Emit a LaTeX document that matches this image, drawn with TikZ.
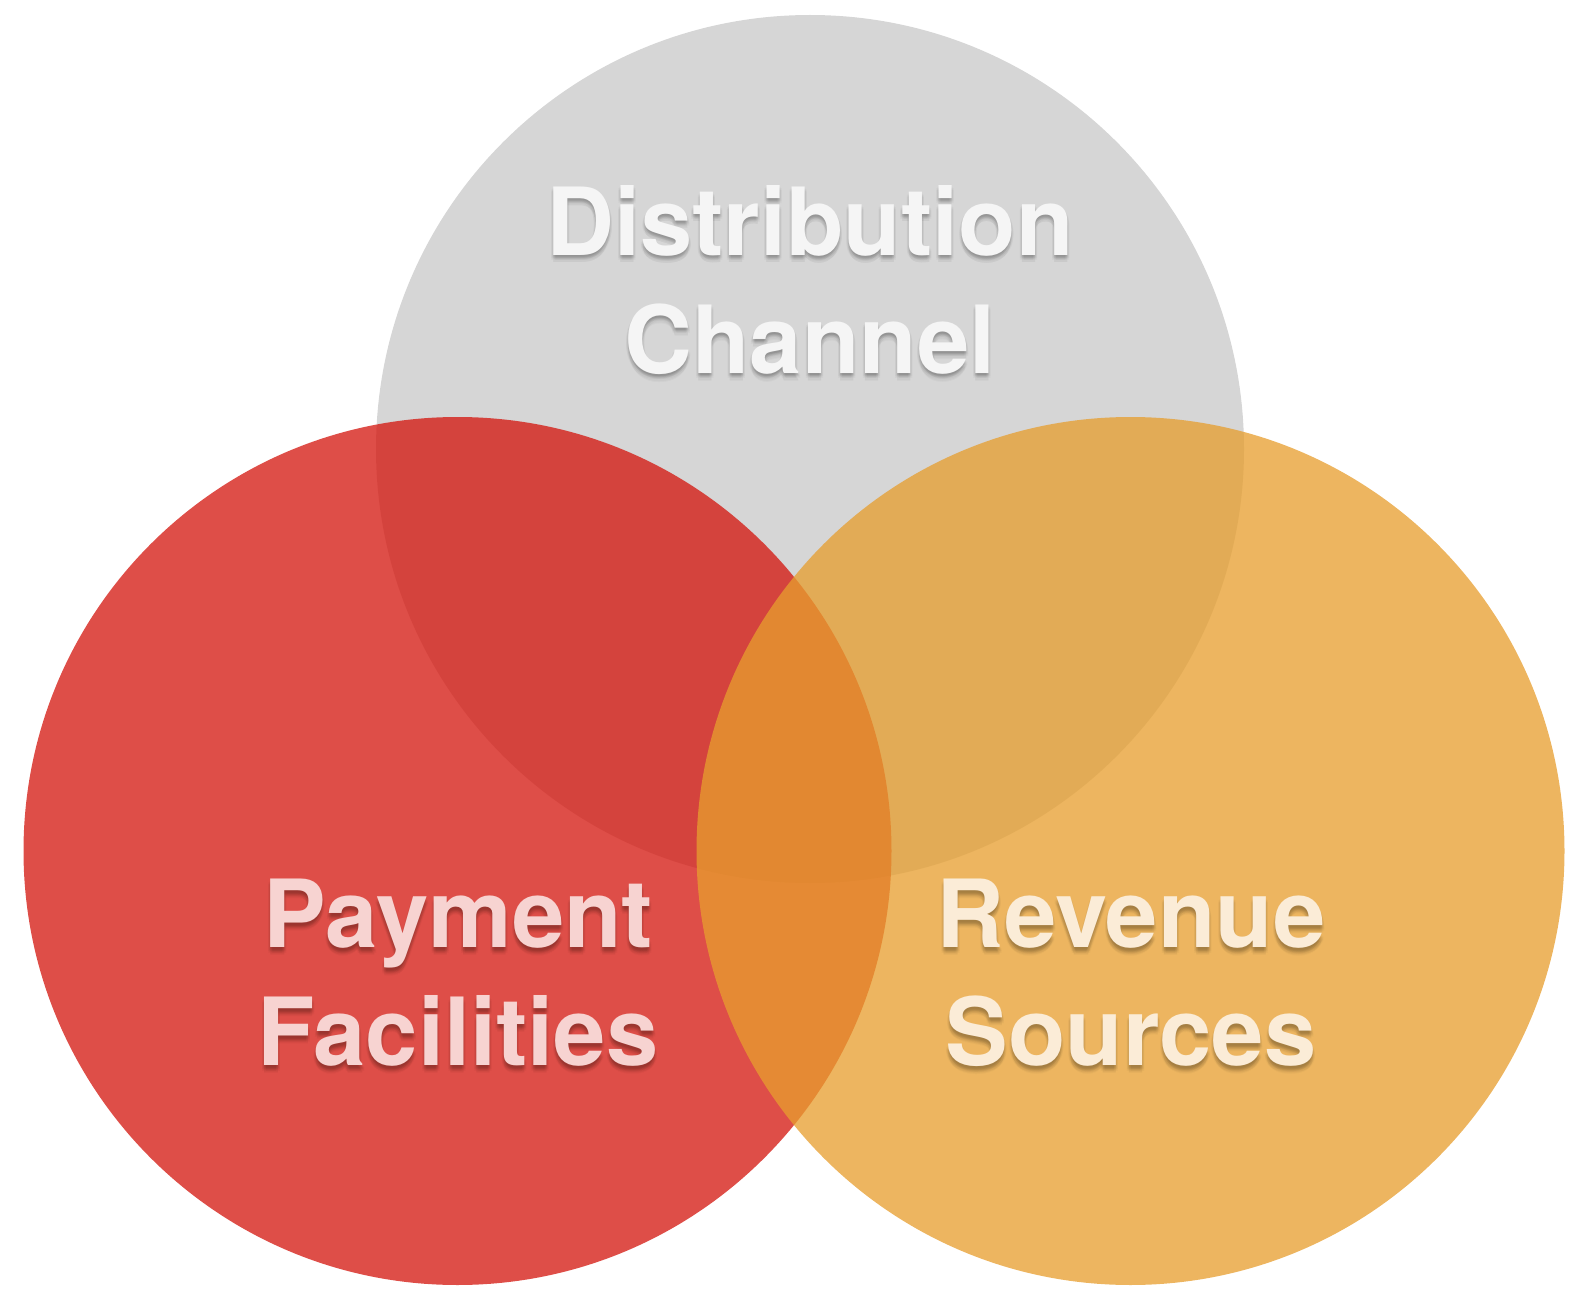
\documentclass[tikz,border=0pt]{standalone}
\usepackage{fontspec}
\setmainfont{TeX Gyre Heros}
\usetikzlibrary{positioning}
\definecolor{chgray}{RGB}{214,214,214}
\definecolor{payred}{RGB}{212,22,14}
\definecolor{revorange}{RGB}{231,158,46}
\definecolor{graytext}{RGB}{245,245,245}
\definecolor{redtext}{RGB}{247,211,209}
\definecolor{orangetext}{RGB}{251,236,215}

\begin{document}
\begin{tikzpicture}[x=0.5pt,y=-0.5pt,
    bubble/.style={circle,inner sep=0pt,minimum size=#1},
    word/.style={font=\fontsize{47}{59}\selectfont\bfseries,align=center,anchor=base,inner sep=0pt},
    shade/.style={word,text=black,text opacity=0.028}]
  \useasboundingbox (0,0) rectangle (1575,1289);
  \clip (0,0) rectangle (1575,1289);
  % the three circles
  \node[bubble=434pt,fill=chgray](channel) at (810,449){};
  \node[bubble=434pt,fill=payred,fill opacity=0.76](payment) at (457.5,851){};
  \node[bubble=434pt,fill=revorange,fill opacity=0.76](revenue) at (1130.5,851){};
  % soft shadow under the words (baseline of the last line)
  \foreach \dx/\dy [count=\i] in {0/4,1/5,-1/5,2/6,-2/6,0/7,1/3,-1/3,0/8,2/4,-2/4,0/2}{
    \node[shade](dshadow\i) at (810+\dx,373+\dy){Distribution\\Channel};
    \node[shade](pshadow\i) at (458+\dx,1065+\dy){Payment\\Facilities};
    \node[shade](rshadow\i) at (1131+\dx,1065+\dy){Revenue\\Sources};
  }
  \node[word,text=graytext](dist) at (810,373){Distribution\\Channel};
  \node[word,text=redtext](pay) at (458,1065){Payment\\Facilities};
  \node[word,text=orangetext](rev) at (1131,1065){Revenue\\Sources};
\end{tikzpicture}
\end{document}
